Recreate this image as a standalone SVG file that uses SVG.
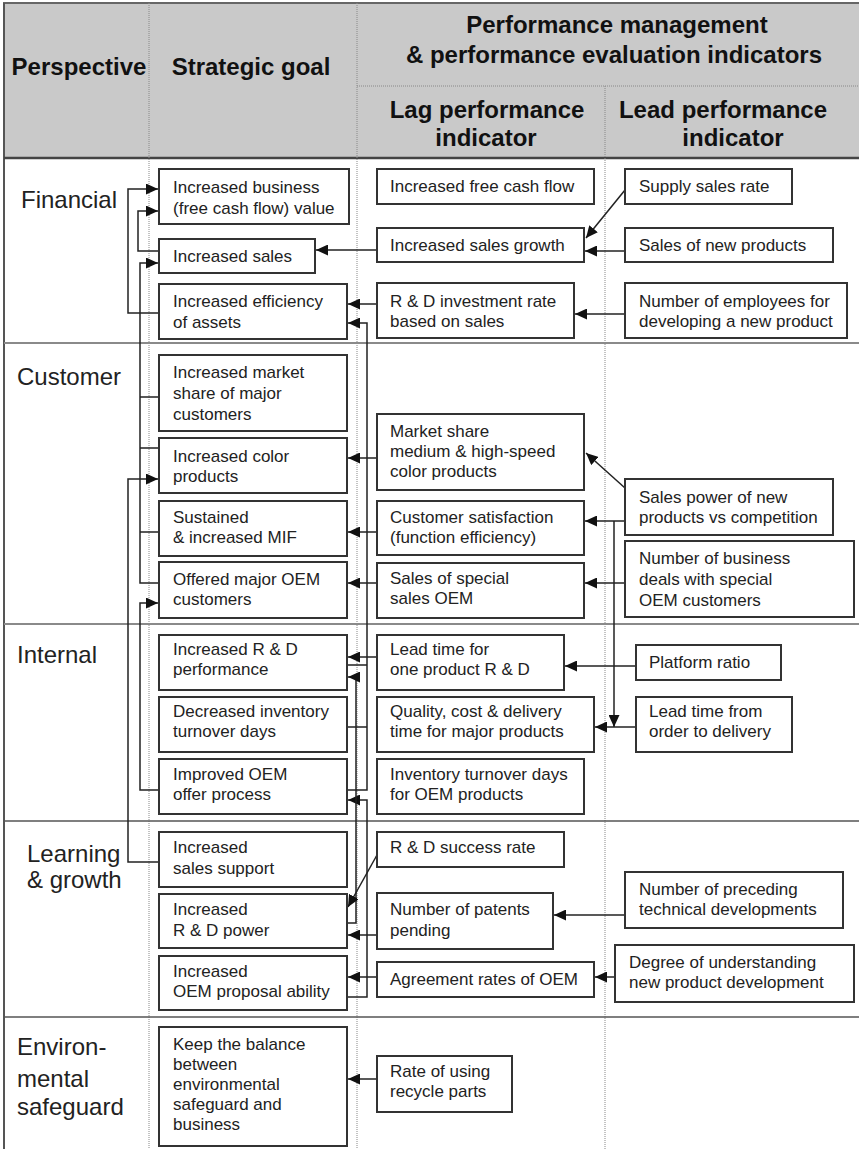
<svg xmlns="http://www.w3.org/2000/svg" width="859" height="1149" viewBox="0 0 859 1149">
<defs>
<marker id="ah" markerUnits="userSpaceOnUse" markerWidth="14" markerHeight="11" refX="12" refY="5.5" orient="auto">
<path d="M0,0 L12,5.5 L0,11 z" fill="#111"/>
</marker>
<style>
.hd{font-family:"Liberation Sans",Arial,sans-serif;font-size:24px;font-weight:bold;fill:#111}
.pl{font-family:"Liberation Sans",Arial,sans-serif;font-size:24px;fill:#222}
.t{font-family:"Liberation Sans",Arial,sans-serif;font-size:17px;fill:#222}
.bx{fill:#fff;stroke:#333;stroke-width:2}
.dot{stroke:#888;stroke-width:1;stroke-dasharray:1 1;fill:none}
.rowl{stroke:#8a8a8a;stroke-width:2;fill:none}
.rowd{stroke:#555;stroke-width:1.6;fill:none}
.c{stroke:#222;stroke-width:1.5;fill:none}
.a{stroke:#222;stroke-width:1.5;fill:none;marker-end:url(#ah)}
</style>
</defs>
<rect width="859" height="1149" fill="#fff"/>
<g id="table">
<rect x="4" y="3" width="855" height="155" fill="#c9c9c9"/>
<line x1="3" y1="3" x2="859" y2="3" stroke="#666" stroke-width="2"/>
<line x1="4" y1="3" x2="4" y2="1149" stroke="#555" stroke-width="2"/>
<line x1="4" y1="158" x2="859" y2="158" stroke="#444" stroke-width="2.5"/>
<line class="dot" x1="149" y1="3" x2="149" y2="1149"/>
<line class="dot" x1="357" y1="3" x2="357" y2="1149"/>
<line class="dot" x1="605" y1="86" x2="605" y2="1149"/>
<line class="dot" x1="357" y1="86" x2="859" y2="86"/>
<line class="rowl" x1="4" y1="343" x2="859" y2="343"/>
<line class="rowl" x1="4" y1="624" x2="859" y2="624"/>
<line class="rowd" x1="4" y1="821" x2="859" y2="821"/>
<line class="rowd" x1="4" y1="1017" x2="859" y2="1017"/>
<text class="hd" x="79" y="75" text-anchor="middle">Perspective</text>
<text class="hd" x="251" y="75" text-anchor="middle">Strategic goal</text>
<text class="hd" x="617" y="33" text-anchor="middle">Performance management</text>
<text class="hd" x="614" y="63" text-anchor="middle">&amp; performance evaluation indicators</text>
<text class="hd" x="487" y="118" text-anchor="middle">Lag performance</text>
<text class="hd" x="486" y="146" text-anchor="middle">indicator</text>
<text class="hd" x="723" y="118" text-anchor="middle">Lead performance</text>
<text class="hd" x="733" y="146" text-anchor="middle">indicator</text>
<text class="pl" x="21" y="208">Financial</text>
<text class="pl" x="17" y="385">Customer</text>
<text class="pl" x="17" y="663">Internal</text>
<text class="pl" x="27" y="862">Learning</text>
<text class="pl" x="27" y="888">&amp; growth</text>
<text class="pl" x="17" y="1055">Environ-</text>
<text class="pl" x="17" y="1087">mental</text>
<text class="pl" x="17" y="1115">safeguard</text>
</g>
<g id="connectors">
<path class="a" d="M159,313 H128 V189 H158"/>
<path class="a" d="M159,251 H138 V211 H158"/>
<path class="a" d="M159,583 H140 V263 H158"/>
<path class="c" d="M159,397 H140 M159,448 H140 M159,532 H140"/>
<path class="a" d="M159,862 H128 V479 H158"/>
<path class="a" d="M159,790 H140 V603 H158"/>
<path class="a" d="M347,790 H367 V323 H348"/>
<path class="c" d="M347,665 H367 M347,727 H367"/>
<path class="a" d="M347,997 H367 V800 H348"/>
<path class="a" d="M347,923 H356 V677 H348"/>
<path class="a" d="M377,250 H316"/>
<path class="a" d="M377,304 H348"/>
<path class="a" d="M377,458 H348"/>
<path class="a" d="M377,532 H348"/>
<path class="a" d="M377,583 H348"/>
<path class="a" d="M377,657 H348"/>
<path class="a" d="M377,855 L348,907"/>
<path class="a" d="M377,935 H348"/>
<path class="a" d="M377,977 H348"/>
<path class="a" d="M377,1079 H348"/>
<path class="a" d="M625,190 L586,238"/>
<path class="a" d="M625,251 H585"/>
<path class="a" d="M625,314 H575"/>
<path class="a" d="M625,488 L586,453"/>
<path class="a" d="M625,521 H585"/>
<path class="a" d="M614,521 V727"/>
<path class="a" d="M625,583 H585"/>
<path class="a" d="M636,666 H565"/>
<path class="a" d="M636,727 H595"/>
<path class="a" d="M625,915 H554"/>
<path class="a" d="M615,977 H595"/>
</g>
<g id="g-value"><rect class="bx" x="159" y="169" width="190" height="55"/><text class="t" x="173" y="193">Increased business</text><text class="t" x="173" y="214">(free cash flow) value</text></g>
<g id="g-sales"><rect class="bx" x="159" y="239" width="156" height="34"/><text class="t" x="173" y="262">Increased sales</text></g>
<g id="g-eff"><rect class="bx" x="159" y="284" width="188" height="55"/><text class="t" x="173" y="307">Increased efficiency</text><text class="t" x="173" y="328">of assets</text></g>
<g id="lag-fcf"><rect class="bx" x="377" y="169" width="217" height="35"/><text class="t" x="390" y="192">Increased free cash flow</text></g>
<g id="lag-growth"><rect class="bx" x="377" y="228" width="207" height="34"/><text class="t" x="390" y="251">Increased sales growth</text></g>
<g id="lag-rd"><rect class="bx" x="377" y="283" width="197" height="55"/><text class="t" x="390" y="307">R &amp; D investment rate</text><text class="t" x="390" y="327">based on sales</text></g>
<g id="lead-supply"><rect class="bx" x="625" y="169" width="167" height="35"/><text class="t" x="639" y="192">Supply sales rate</text></g>
<g id="lead-newprod"><rect class="bx" x="625" y="228" width="208" height="34"/><text class="t" x="639" y="251">Sales of new products</text></g>
<g id="lead-employees"><rect class="bx" x="625" y="283" width="222" height="55"/><text class="t" x="639" y="307">Number of employees for</text><text class="t" x="639" y="327">developing a new product</text></g>
<g id="g-market"><rect class="bx" x="159" y="355" width="188" height="76"/><text class="t" x="173" y="378">Increased market</text><text class="t" x="173" y="399">share of major</text><text class="t" x="173" y="420">customers</text></g>
<g id="g-color"><rect class="bx" x="159" y="438" width="188" height="55"/><text class="t" x="173" y="462">Increased color</text><text class="t" x="173" y="482">products</text></g>
<g id="g-mif"><rect class="bx" x="159" y="501" width="188" height="55"/><text class="t" x="173" y="523">Sustained</text><text class="t" x="173" y="543">&amp; increased MIF</text></g>
<g id="g-oem"><rect class="bx" x="159" y="562" width="188" height="56"/><text class="t" x="173" y="585">Offered major OEM</text><text class="t" x="173" y="605">customers</text></g>
<g id="lag-share"><rect class="bx" x="377" y="414" width="207" height="76"/><text class="t" x="390" y="437">Market share</text><text class="t" x="390" y="457">medium &amp; high-speed</text><text class="t" x="390" y="477">color products</text></g>
<g id="lag-sat"><rect class="bx" x="377" y="501" width="207" height="54"/><text class="t" x="390" y="523">Customer satisfaction</text><text class="t" x="390" y="543">(function efficiency)</text></g>
<g id="lag-special"><rect class="bx" x="377" y="563" width="207" height="55"/><text class="t" x="390" y="584">Sales of special</text><text class="t" x="390" y="604">sales OEM</text></g>
<g id="lead-power"><rect class="bx" x="625" y="479" width="208" height="56"/><text class="t" x="639" y="503">Sales power of new</text><text class="t" x="639" y="523">products vs competition</text></g>
<g id="lead-deals"><rect class="bx" x="625" y="541" width="229" height="76"/><text class="t" x="639" y="564">Number of business</text><text class="t" x="639" y="585">deals with special</text><text class="t" x="639" y="606">OEM customers</text></g>
<g id="g-rdperf"><rect class="bx" x="159" y="635" width="188" height="55"/><text class="t" x="173" y="655">Increased R &amp; D</text><text class="t" x="173" y="675">performance</text></g>
<g id="g-inventory"><rect class="bx" x="159" y="697" width="188" height="55"/><text class="t" x="173" y="717">Decreased inventory</text><text class="t" x="173" y="737">turnover days</text></g>
<g id="g-oemproc"><rect class="bx" x="159" y="759" width="188" height="55"/><text class="t" x="173" y="780">Improved OEM</text><text class="t" x="173" y="800">offer process</text></g>
<g id="lag-leadtime"><rect class="bx" x="377" y="635" width="187" height="55"/><text class="t" x="390" y="655">Lead time for</text><text class="t" x="390" y="675">one product R &amp; D</text></g>
<g id="lag-quality"><rect class="bx" x="377" y="697" width="217" height="55"/><text class="t" x="390" y="717">Quality, cost &amp; delivery</text><text class="t" x="390" y="737">time for major products</text></g>
<g id="lag-invdays"><rect class="bx" x="377" y="759" width="207" height="55"/><text class="t" x="390" y="780">Inventory turnover days</text><text class="t" x="390" y="800">for OEM products</text></g>
<g id="lead-platform"><rect class="bx" x="636" y="645" width="145" height="35"/><text class="t" x="649" y="668">Platform ratio</text></g>
<g id="lead-order"><rect class="bx" x="636" y="697" width="156" height="55"/><text class="t" x="649" y="717">Lead time from</text><text class="t" x="649" y="737">order to delivery</text></g>
<g id="g-support"><rect class="bx" x="159" y="832" width="188" height="55"/><text class="t" x="173" y="853">Increased</text><text class="t" x="173" y="874">sales support</text></g>
<g id="g-rdpower"><rect class="bx" x="159" y="894" width="188" height="54"/><text class="t" x="173" y="915">Increased</text><text class="t" x="173" y="936">R &amp; D power</text></g>
<g id="g-proposal"><rect class="bx" x="159" y="956" width="188" height="54"/><text class="t" x="173" y="977">Increased</text><text class="t" x="173" y="997">OEM proposal ability</text></g>
<g id="lag-success"><rect class="bx" x="377" y="832" width="187" height="35"/><text class="t" x="390" y="853">R &amp; D success rate</text></g>
<g id="lag-patents"><rect class="bx" x="377" y="893" width="176" height="56"/><text class="t" x="390" y="915">Number of patents</text><text class="t" x="390" y="936">pending</text></g>
<g id="lag-agreement"><rect class="bx" x="377" y="962" width="217" height="35"/><text class="t" x="390" y="985">Agreement rates of OEM</text></g>
<g id="lead-preceding"><rect class="bx" x="625" y="872" width="218" height="56"/><text class="t" x="639" y="895">Number of preceding</text><text class="t" x="639" y="915">technical developments</text></g>
<g id="lead-degree"><rect class="bx" x="615" y="945" width="239" height="57"/><text class="t" x="629" y="968">Degree of understanding</text><text class="t" x="629" y="988">new product development</text></g>
<g id="g-balance"><rect class="bx" x="159" y="1027" width="188" height="119"/><text class="t" x="173" y="1050">Keep the balance</text><text class="t" x="173" y="1070">between</text><text class="t" x="173" y="1090">environmental</text><text class="t" x="173" y="1110">safeguard and</text><text class="t" x="173" y="1130">business</text></g>
<g id="lag-recycle"><rect class="bx" x="377" y="1056" width="135" height="56"/><text class="t" x="390" y="1077">Rate of using</text><text class="t" x="390" y="1097">recycle parts</text></g>
</svg>
